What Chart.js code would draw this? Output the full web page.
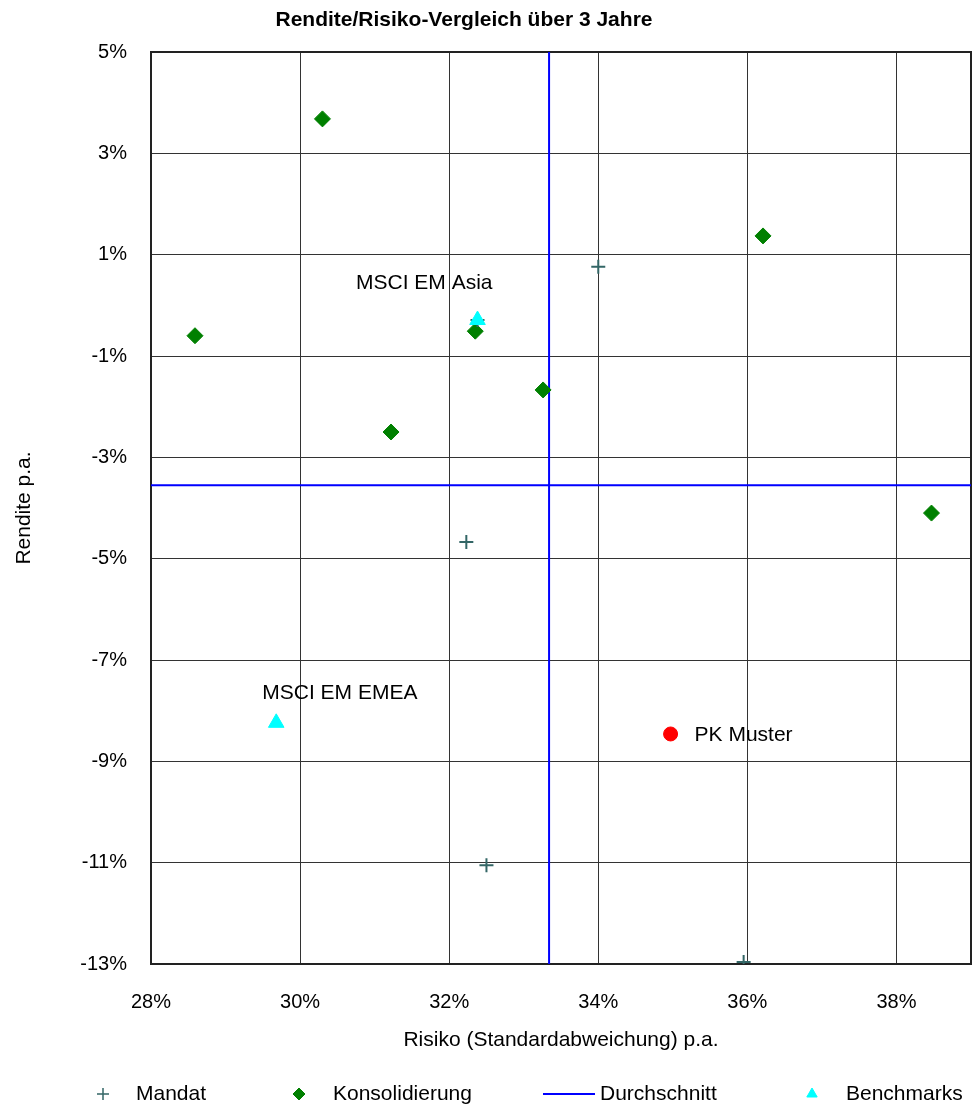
<!DOCTYPE html>
<html>
<head>
<meta charset="utf-8">
<script src="https://cdn.jsdelivr.net/npm/chart.js@4.4.1/dist/chart.umd.min.js"></script>
<style>
  html, body { margin: 0; padding: 0; background: #fff; }
  #wrap { width: 972px; height: 1107px; }
</style>
</head>
<body>
<div id="wrap"><canvas id="myChart" width="972" height="1107"></canvas></div>
<script>
var chartTitle = "Rendite/Risiko-Vergleich über 3 Jahre";
var xTitle = "Risiko (Standardabweichung) p.a.";
var yTitle = "Rendite p.a.";

var xTicks = [28, 30, 32, 34, 36, 38];
var yTicks = [-13, -11, -9, -7, -5, -3, -1, 1, 3, 5];

// Mandat (risk, return)
var mandatX = [34.0, 32.23, 32.38, 32.50, 35.95];
var mandatY = [0.76, -4.67, -0.29, -11.05, -12.96];

// Konsolidierung
var konsX = [30.30, 36.21, 28.59, 32.35, 33.26, 31.22, 38.47];
var konsY = [3.68, 1.37, -0.60, -0.51, -1.67, -2.50, -4.10];

// Benchmarks
var benchNames = ["MSCI EM Asia", "MSCI EM EMEA"];
var benchX = [32.38, 29.68];
var benchY = [-0.29, -8.24];

// PK Muster
var pkName = "PK Muster";
var pkX = [34.97];
var pkY = [-8.46];

// Durchschnitt
var avgRisk = 33.34;
var avgReturn = -3.55;
var xMin = 28, xMax = 39, yMin = -13, yMax = 5;

var fontFamily = "'Liberation Sans', Arial, sans-serif";
var tickFont = { family: fontFamily, size: 20 };
var labelFont = { family: fontFamily, size: 21 };

function toPoints(xs, ys) {
  return xs.map(function (x, i) {
    return { x: x, y: ys[i] };
  });
}

var extrasPlugin = {
  id: "extras",
  beforeDatasetsDraw: function (chart) {
    var ctx = chart.ctx;
    var a = chart.chartArea;
    ctx.save();
    ctx.strokeStyle = "#222";
    ctx.lineWidth = 2;
    ctx.strokeRect(a.left, a.top, a.right - a.left, a.bottom - a.top);
    ctx.restore();
  },
  afterDraw: function (chart) {
    var ctx = chart.ctx;
    ctx.save();
    // title
    ctx.fillStyle = "#000";
    ctx.font = "bold 21px " + fontFamily;
    ctx.textAlign = "center";
    ctx.textBaseline = "middle";
    ctx.fillText(chartTitle, 464, 20);

    // point labels
    ctx.font = "21px " + fontFamily;
    var bm = chart.getDatasetMeta(3).data;
    ctx.textAlign = "right";
    ctx.textBaseline = "middle";
    ctx.fillText(benchNames[0], bm[0].x + 15, bm[0].y - 37);
    ctx.textAlign = "left";
    ctx.fillText(benchNames[1], bm[1].x - 14, bm[1].y - 30);
    var pm = chart.getDatasetMeta(4).data;
    ctx.fillText(pkName, pm[0].x + 24, pm[0].y + 1);

    // legend
    var ly = 1094;
    var items = [
      { ds: 0, mx: 103, tx: 136 },
      { ds: 1, mx: 299, tx: 333 },
      { ds: 2, mx: 569, tx: 600 },
      { ds: 3, mx: 812, tx: 846 }
    ];
    items.forEach(function (it) {
      var d = chart.data.datasets[it.ds];
      if (it.ds === 2) {
        ctx.strokeStyle = d.borderColor;
        ctx.lineWidth = 2;
        ctx.beginPath();
        ctx.moveTo(it.mx - 26, ly);
        ctx.lineTo(it.mx + 26, ly);
        ctx.stroke();
      } else {
        ctx.fillStyle = d.backgroundColor;
        ctx.strokeStyle = d.borderColor;
        ctx.lineWidth = it.ds === 0 ? 1.5 : 1;
        Chart.helpers.drawPoint(ctx, {
          pointStyle: d.pointStyle,
          radius: 6,
          borderWidth: ctx.lineWidth,
          rotation: 0
        }, it.mx, ly);
      }
      ctx.fillStyle = "#000";
      ctx.textAlign = "left";
      ctx.textBaseline = "middle";
      ctx.fillText(d.label, it.tx, ly);
    });
    ctx.restore();
  }
};

var ctx = document.getElementById("myChart").getContext("2d");
var myChart = new Chart(ctx, {
  type: "scatter",
  data: {
    datasets: [
      {
        label: "Mandat",
        data: toPoints(mandatX, mandatY),
        pointStyle: "cross",
        pointRadius: 7,
        borderWidth: 2,
        borderColor: "#336666",
        backgroundColor: "#336666",
        order: 2
      },
      {
        label: "Konsolidierung",
        data: toPoints(konsX, konsY),
        pointStyle: "rectRot",
        pointRadius: 8,
        borderWidth: 1,
        borderColor: "#008000",
        backgroundColor: "#008000",
        order: 3
      },
      {
        label: "Durchschnitt",
        data: [
          { x: avgRisk, y: yMin }, { x: avgRisk, y: yMax }, { x: NaN, y: NaN },
          { x: xMin, y: avgReturn }, { x: xMax, y: avgReturn }
        ],
        showLine: true,
        spanGaps: false,
        pointRadius: 0,
        borderWidth: 2,
        borderColor: "#0000FF",
        backgroundColor: "#0000FF",
        order: 4
      },
      {
        label: "Benchmarks",
        data: toPoints(benchX, benchY),
        pointStyle: "triangle",
        pointRadius: 9,
        borderWidth: 1,
        borderColor: "#00FFFF",
        backgroundColor: "#00FFFF",
        order: 0
      },
      {
        label: pkName,
        data: toPoints(pkX, pkY),
        pointStyle: "circle",
        pointRadius: 7,
        borderWidth: 1,
        borderColor: "#FF0000",
        backgroundColor: "#FF0000",
        order: 1
      }
    ]
  },
  options: {
    responsive: false,
    animation: false,
    layout: { autoPadding: false, padding: { left: 12, right: 1, top: 52, bottom: 54 } },
    plugins: {
      legend: { display: false },
      title: { display: false },
      tooltip: { enabled: false }
    },
    scales: {
      x: {
        type: "linear",
        min: xMin,
        max: xMax,
        afterBuildTicks: function (scale) {
          scale.ticks = xTicks.map(function (v) { return { value: v }; });
        },
        afterFit: function (scale) {
          scale.height = 89;
          scale.paddingLeft = 0;
          scale.paddingRight = 0;
        },
        grid: { color: "#333", borderDash: [1, 1], drawTicks: false },
        border: { display: false },
        ticks: {
          padding: 26,
          color: "#000",
          font: tickFont,
          maxRotation: 0,
          autoSkip: false,
          callback: function (v) { return v + "%"; }
        },
        title: { display: true, text: xTitle, color: "#000", font: labelFont, padding: 0 }
      },
      y: {
        type: "linear",
        min: yMin,
        max: yMax,
        afterBuildTicks: function (scale) {
          scale.ticks = yTicks.map(function (v) { return { value: v }; });
        },
        afterFit: function (scale) {
          scale.width = 139;
          scale.paddingTop = 0;
          scale.paddingBottom = 0;
        },
        grid: { color: "#333", borderDash: [1, 1], drawTicks: false },
        border: { display: false },
        ticks: {
          padding: 24,
          color: "#000",
          font: tickFont,
          autoSkip: false,
          callback: function (v) { return v + "%"; }
        },
        title: { display: true, text: yTitle, color: "#000", font: labelFont, padding: 0 }
      }
    }
  },
  plugins: [extrasPlugin]
});
</script>
</body>
</html>
